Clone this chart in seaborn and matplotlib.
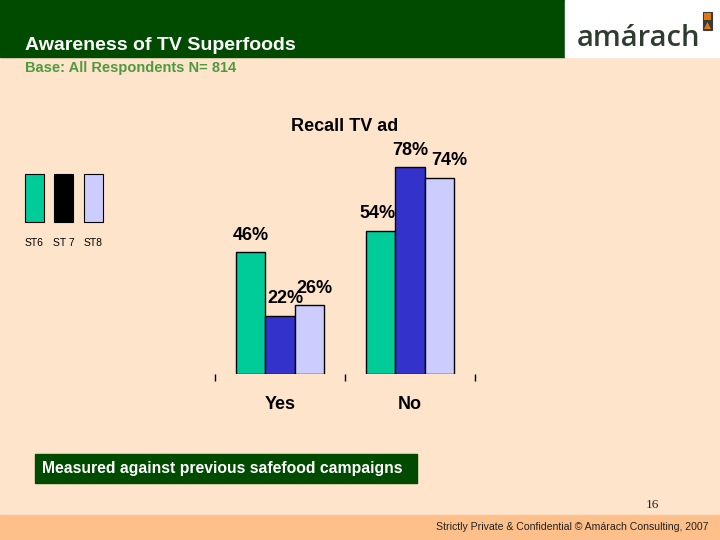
import matplotlib
matplotlib.use("Agg")
import matplotlib.pyplot as plt
from matplotlib.patches import Rectangle, Polygon
import pandas as pd
import seaborn as sns

# values
answers = ["Yes", "No"]
waves = ["ST6", "ST 7", "ST8"]
st6 = [46, 54]
st7 = [22, 78]
st8 = [26, 74]
bar_colors = ["#00CC99", "#3333CC", "#CCCCFF"]
legend_colors = ["#00CC99", "#000000", "#CCCCFF"]
# small pixel nudges for the % labels, as placed in the original slide
label_nudge = {("Yes", "ST6"): 0, ("Yes", "ST 7"): 5, ("Yes", "ST8"): 5,
               ("No", "ST6"): -3, ("No", "ST 7"): 0, ("No", "ST8"): 10}

df = pd.DataFrame({
    "answer": answers * 3,
    "wave": [w for w in waves for _ in answers],
    "pct": st6 + st7 + st8,
})

sns.set_theme(style="white")
plt.rcParams["font.family"] = ["Liberation Sans", "DejaVu Sans"]
plt.rcParams["text.color"] = "black"
plt.rcParams["xtick.color"] = "black"
plt.rcParams["axes.labelcolor"] = "black"

W, H = 720, 540
fig = plt.figure(figsize=(7.2, 5.4), dpi=100)
fig.patch.set_facecolor("#FFE4CC")

def fx(px):
    return px / W

def fy(py):
    return 1 - py / H

# header band and logo box
fig.patches.append(Rectangle((0, fy(57)), fx(565), 57 / H, transform=fig.transFigure,
                             color="#004B00", zorder=0))
fig.patches.append(Rectangle((fx(565), fy(57)), fx(155), 57 / H, transform=fig.transFigure,
                             color="white", zorder=0))
fig.text(fx(577), fy(38), "amárach", fontsize=21, color="#2F3D30", va="center", ha="left",
         family=["Open Sans", "DejaVu Sans"], fontweight="semibold")
fig.patches.append(Rectangle((fx(703), fy(30)), fx(9), 18 / H, transform=fig.transFigure,
                             facecolor="#3A3A3A", edgecolor="#3A3A3A", lw=0.8, zorder=2))
fig.patches.append(Rectangle((fx(704), fy(20)), fx(7), 7 / H, transform=fig.transFigure,
                             facecolor="#E07A10", lw=0, zorder=3))
fig.patches.append(Polygon([(fx(704), fy(29)), (fx(711), fy(29)), (fx(707.5), fy(22))],
                           closed=True, transform=fig.transFigure, facecolor="#E07A10",
                           lw=0, zorder=3))
fig.text(fx(25), fy(46), "Awareness of TV Superfoods", fontsize=14, color="white",
         fontweight="bold", va="center", ha="left")
fig.text(fx(25), fy(68), "Base: All Respondents N= 814", fontsize=10.5, color="#4E9A3E",
         fontweight="bold", va="center", ha="left")

# footer band
fig.patches.append(Rectangle((0, 0), 1, 25 / H, transform=fig.transFigure,
                             color="#FDC08A", zorder=0))
fig.text(fx(708), fy(527), "Strictly Private & Confidential © Amárach Consulting, 2007",
         fontsize=7.6, color="#222222", va="center", ha="right")
fig.text(fx(652), fy(505), "16", fontsize=9.5, color="#222222", va="center", ha="center",
         family=["Liberation Serif", "DejaVu Serif"])

# note box
fig.patches.append(Rectangle((fx(35), fy(483)), fx(382), 29 / H, transform=fig.transFigure,
                             color="#004B00", zorder=0))
fig.text(fx(42), fy(468), "Measured against previous safefood campaigns", fontsize=11.3,
         color="white", fontweight="bold", va="center", ha="left")

# legend drawn as vertical swatches over labels
for i, (w, c) in enumerate(zip(waves, legend_colors)):
    x0 = [25, 54, 84][i]
    fig.patches.append(Rectangle((fx(x0), fy(222)), fx(19), 48 / H, transform=fig.transFigure,
                                 facecolor=c, edgecolor="black", lw=0.8, zorder=2))
    fig.text(fx(x0 + 9.5), fy(243), w, fontsize=7.5, color="black", ha="center", va="center")

# bar chart
ax = fig.add_axes([fx(215), 1 - 374 / H, fx(260), 212 / H])
ax.set_facecolor("none")
sns.barplot(data=df, x="answer", y="pct", hue="wave", order=answers, hue_order=waves,
            palette=bar_colors, saturation=1, width=0.67, gap=0, edgecolor="black",
            linewidth=1, legend=False, ax=ax)
ax.set_xlim(-0.5, 1.5)
ax.set_ylim(0, 80)
for s in ax.spines.values():
    s.set_visible(False)
ax.set_yticks([])
ax.set_xticks([-0.5, 0.5, 1.5])
ax.set_xticklabels([])
ax.set_xticks([0, 1], minor=True)
ax.set_xticklabels(answers, minor=True, fontsize=13, fontweight="bold")
ax.tick_params(axis="x", which="major", length=5, width=1, color="black", direction="out",
               bottom=True)
ax.tick_params(axis="x", which="minor", length=0, pad=16)
ax.set_xlabel("")
ax.set_ylabel("")
ax.set_title("Recall TV ad", fontsize=13, fontweight="bold", pad=22, y=1.0)

for cont, w in zip(ax.containers, waves):
    for bar, a in zip(cont, answers):
        xc = bar.get_x() + bar.get_width() / 2
        ax.annotate(f"{bar.get_height():.0f}%", (xc, bar.get_height()),
                    xytext=(label_nudge[(a, w)], 17), textcoords="offset pixels",
                    ha="center", va="center", fontsize=13, fontweight="bold",
                    annotation_clip=False)

fig.savefig("out.png", dpi=100, facecolor=fig.get_facecolor())
